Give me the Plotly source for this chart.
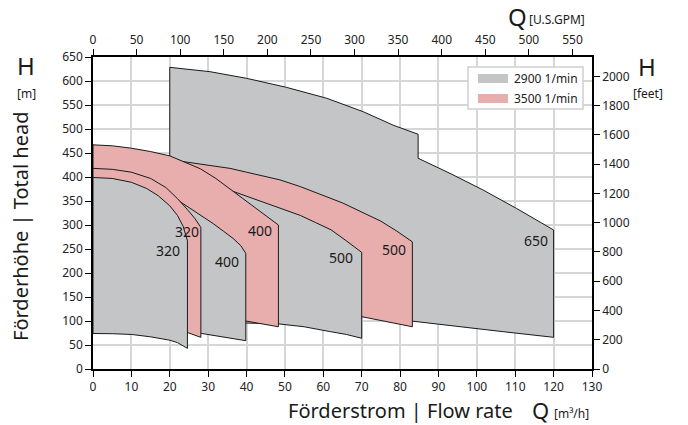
import plotly.graph_objects as go

# ---------------- data ----------------
# Q in m3/h, H in m.  Each field: top curve (left->right) and bottom curve (left->right)
g650_top_q = [20, 30.5, 40, 50.4, 60.9, 70.4, 78.2, 84.7, 84.7, 93, 101.6, 110.3, 120]
g650_top_h = [628.5, 619.4, 605.6, 586.8, 564, 536, 508, 489, 439, 407.6, 373, 334.7, 289.6]
g650_bot_q = [20, 50, 70, 83.2, 93.8, 106.8, 120]
g650_bot_h = [150, 128, 112, 100, 90, 77.8, 66]

p500_top_q = [0, 10, 21.8, 30, 35.7, 40, 48.7, 54, 60, 65, 70, 75, 79, 83.2]
p500_top_h = [448, 444, 434, 425, 418, 410, 394, 380, 362, 346, 327, 308, 288, 265]
p500_bot_q = [0, 30, 50, 70, 83.2]
p500_bot_h = [160, 140, 125, 109, 88]

g500_top_q = [0, 10, 20, 30, 36.5, 42, 48, 54, 58, 62, 66, 70]
g500_top_h = [425, 420, 408, 388, 370, 354, 337, 320, 305, 290, 267, 243]
g500_bot_q = [0, 20, 39.8, 48.3, 55, 61.7, 66, 70]
g500_bot_h = [102, 100, 96, 94, 88, 78, 72, 64]

p400_top_q = [0, 5, 10, 15, 20, 24, 28, 32, 36.5, 40, 44, 48.3]
p400_top_h = [467, 465, 460, 453, 444, 431, 417, 397, 370, 350, 326, 300]
p400_bot_q = [0, 20, 39.8, 48.3]
p400_bot_h = [120, 112, 100, 88]

g400_top_q = [0, 10, 16, 20, 22.6, 27, 31.3, 34, 36.5, 38.5, 39.8]
g400_top_h = [408, 395, 378, 362, 349, 326, 303, 287, 272, 257, 241]
g400_bot_q = [0, 15, 24.6, 28.3, 34, 39.8]
g400_bot_h = [100, 92, 82, 74, 67, 59]

p320_top_q = [0, 5, 10, 15, 19, 22, 24.5, 26.5, 28.1]
p320_top_h = [418, 416, 410, 397, 378, 355, 333, 314, 295]
p320_bot_q = [0, 10, 20, 24.6, 28.1]
p320_bot_h = [100, 96, 86, 76, 66]

g320_top_q = [0, 5, 10, 14, 17, 20, 22, 23.5, 24.6]
g320_top_h = [399, 397, 389, 376, 361, 340, 320, 297, 267]
g320_bot_q = [0, 5, 10, 15, 20, 22, 24.6]
g320_bot_h = [74, 73.5, 72, 67, 60, 55, 43]

label_text = ["320", "320", "400", "400", "500", "500", "650"]
label_q = [19.6, 24.6, 34.8, 43.5, 64.5, 78.4, 115.4]
label_h = [246.5, 286, 225, 288, 232, 248, 268.7]

legend_names = ["2900 1/min", "3500 1/min"]

x_ticks_q = list(range(0, 131, 10))
y_ticks_h = list(range(0, 651, 50))
gpm_ticks = list(range(0, 551, 50))
feet_ticks = list(range(0, 2001, 200))

M3H_TO_GPM = 4.40287
M_TO_FT = 3.28084

GREY = "#c4c5c7"
PINK = "#e8aeae"
FONT = "Noto Sans"

fields = [
    (g650_top_q, g650_top_h, g650_bot_q, g650_bot_h, GREY),
    (p500_top_q, p500_top_h, p500_bot_q, p500_bot_h, PINK),
    (g500_top_q, g500_top_h, g500_bot_q, g500_bot_h, GREY),
    (p400_top_q, p400_top_h, p400_bot_q, p400_bot_h, PINK),
    (g400_top_q, g400_top_h, g400_bot_q, g400_bot_h, GREY),
    (p320_top_q, p320_top_h, p320_bot_q, p320_bot_h, PINK),
    (g320_top_q, g320_top_h, g320_bot_q, g320_bot_h, GREY),
]

fig = go.Figure()
for tq, th, bq, bh, col in fields:
    xs = list(tq) + list(reversed(bq)) + [tq[0]]
    ys = list(th) + list(reversed(bh)) + [th[0]]
    fig.add_trace(go.Scatter(x=xs, y=ys, mode="lines", fill="toself",
                             fillcolor=col, line=dict(color="#1a1a1a", width=1),
                             hoverinfo="skip", showlegend=False))

# invisible traces to activate secondary axes
fig.add_trace(go.Scatter(x=[0, 130 * M3H_TO_GPM], y=[0, 650 * M_TO_FT], xaxis="x2", yaxis="y2",
                         mode="markers", marker=dict(opacity=0), hoverinfo="skip", showlegend=False))

for t, q, h in zip(label_text, label_q, label_h):
    fig.add_annotation(x=q, y=h, text=t, showarrow=False, xref="x", yref="y",
                       font=dict(family=FONT, size=14, color="#1a1a1a"))

W, H = 688, 425
L, R, T, B = 93, 592, 57, 369


def px(x):
    return (x - L) / (R - L)


def py(y):
    return (B - y) / (B - T)


axis_common = dict(showline=True, linecolor="black", linewidth=1.5, ticks="outside",
                   ticklen=6, tickwidth=1.2, tickcolor="black", zeroline=False,
                   tickfont=dict(family=FONT, size=12, color="#222"))

fig.update_layout(
    width=W, height=H,
    margin=dict(l=L, r=W - R, t=T, b=H - B, pad=0),
    paper_bgcolor="white", plot_bgcolor="white",
    showlegend=False,
    xaxis=dict(range=[0, 130], tickvals=x_ticks_q, showgrid=True, gridcolor="#d6d6d6",
               gridwidth=1.5, **axis_common),
    yaxis=dict(range=[0, 650], tickvals=y_ticks_h, showgrid=True, gridcolor="#d6d6d6",
               gridwidth=1.5, **axis_common),
    xaxis2=dict(range=[0, 130 * M3H_TO_GPM], tickvals=gpm_ticks, overlaying="x", side="top",
                showgrid=False, anchor="y", **axis_common),
    yaxis2=dict(range=[0, 650 * M_TO_FT], tickvals=feet_ticks, overlaying="y", side="right",
                showgrid=False, anchor="x", **axis_common),
)

# legend box (drawn manually)
fig.add_shape(type="rect", xref="paper", yref="paper", x0=px(468), x1=px(583), y0=py(109), y1=py(67),
              line=dict(color="#cfcfcf", width=1.5), fillcolor="white", layer="above")
sw = [(74, 83, GREY), (94, 103, PINK)]
for (a, b, c), name in zip(sw, legend_names):
    fig.add_shape(type="rect", xref="paper", yref="paper", x0=px(478), x1=px(508), y0=py(b), y1=py(a),
                  line=dict(width=0), fillcolor=c, layer="above")
    fig.add_annotation(xref="paper", yref="paper", x=px(512), y=py((a + b) / 2), text=name,
                       showarrow=False, xanchor="left", yanchor="middle",
                       font=dict(family=FONT, size=12, color="#222"))

ann = [
    ("H", 26, 65, 24, "center", 0),
    ("[m]", 26, 93, 12, "center", 0),
    ("Förderhöhe | Total head", 20, 227, 20, "center", -90),
    ("H", 647, 66, 24, "center", 0),
    ("[feet]", 648, 93, 12, "center", 0),
    ("Q", 517, 16, 24, "center", 0),
    ("[U.S.GPM]", 528, 19, 12, "left", 0),
    ("Förderstrom | Flow rate", 400, 410, 20, "center", 0),
    ("Q", 540, 410, 22, "center", 0),
    ("[m³/h]", 553, 413, 12, "left", 0),
]
for text, x, y, size, xa, ang in ann:
    fig.add_annotation(xref="paper", yref="paper", x=px(x), y=py(y), text=text, showarrow=False,
                       xanchor=xa, yanchor="middle", textangle=ang, borderpad=0,
                       font=dict(family=FONT, size=size, color="#1a1a1a"))

fig.write_html("out.html")
